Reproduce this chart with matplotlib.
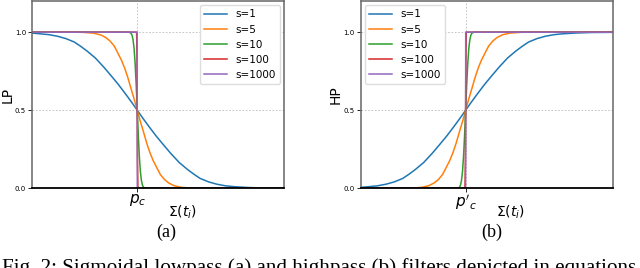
import matplotlib.pyplot as plt

# values (centre p_c = 0, x from -5 to 7)
labels = ["s=1", "s=5", "s=10", "s=100", "s=1000"]
colors = ["tab:blue", "tab:orange", "tab:green", "tab:red", "tab:purple"]

x_s1 = [-5, -4.65, -4.2, -3.8, -3.4, -3.0, -2.7, -2.4, -2.0, -1.6, -1.27, -0.9, -0.55, -0.25, 0,
        0.25, 0.55, 0.9, 1.27, 1.6, 2.0, 2.4, 2.7, 3.0, 3.4, 3.8, 4.2, 4.65, 5.3, 6.0, 7.0]
lp_s1 = [0.994, 0.99, 0.984, 0.974, 0.959, 0.937, 0.91, 0.88, 0.835, 0.777, 0.725, 0.665, 0.603, 0.548, 0.5,
         0.452, 0.397, 0.335, 0.275, 0.223, 0.165, 0.12, 0.09, 0.063, 0.041, 0.026, 0.016, 0.01, 0.005, 0.002, 0.001]
hp_s1 = [0.006, 0.01, 0.016, 0.026, 0.041, 0.063, 0.09, 0.12, 0.165, 0.223, 0.275, 0.335, 0.397, 0.452, 0.5,
         0.548, 0.603, 0.665, 0.725, 0.777, 0.835, 0.88, 0.91, 0.937, 0.959, 0.974, 0.984, 0.99, 0.995, 0.998, 0.999]

x_s5 = [-5, -3, -2.6, -2.1, -1.75, -1.5, -1.3, -1.1, -0.92, -0.75, -0.6, -0.45, -0.3, -0.15, 0,
        0.15, 0.3, 0.45, 0.6, 0.75, 0.92, 1.1, 1.3, 1.5, 1.75, 2.1, 2.6, 3, 7]
lp_s5 = [1.0, 1.0, 0.999, 0.994, 0.983, 0.966, 0.944, 0.912, 0.865, 0.82, 0.77, 0.71, 0.64, 0.573, 0.5,
         0.427, 0.36, 0.29, 0.23, 0.18, 0.135, 0.088, 0.056, 0.034, 0.017, 0.006, 0.001, 0.0, 0.0]
hp_s5 = [0.0, 0.0, 0.001, 0.006, 0.017, 0.034, 0.056, 0.088, 0.135, 0.18, 0.23, 0.29, 0.36, 0.427, 0.5,
         0.573, 0.64, 0.71, 0.77, 0.82, 0.865, 0.912, 0.944, 0.966, 0.983, 0.994, 0.999, 1.0, 1.0]

x_s10 = [-5, -0.4, -0.3, -0.25, -0.2, -0.15, -0.1, -0.05, 0, 0.05, 0.1, 0.15, 0.2, 0.25, 0.3, 0.4, 7]
lp_s10 = [1.0, 1.0, 0.994, 0.981, 0.952, 0.894, 0.797, 0.662, 0.5, 0.338, 0.203, 0.106, 0.048, 0.019, 0.006, 0.0, 0.0]
hp_s10 = [0.0, 0.0, 0.006, 0.019, 0.048, 0.106, 0.203, 0.338, 0.5, 0.662, 0.797, 0.894, 0.952, 0.981, 0.994, 1.0, 1.0]

x_s100 = [-5, -0.03, -0.01, 0, 0.01, 0.03, 7]
lp_s100 = [1.0, 1.0, 0.8, 0.5, 0.2, 0.0, 0.0]
hp_s100 = [0.0, 0.0, 0.2, 0.5, 0.8, 1.0, 1.0]

x_s1000 = [-5, -0.003, 0, 0.003, 7]
lp_s1000 = [1.0, 1.0, 0.5, 0.0, 0.0]
hp_s1000 = [0.0, 0.0, 0.5, 1.0, 1.0]

xs = [x_s1, x_s5, x_s10, x_s100, x_s1000]
lp_curves = [lp_s1, lp_s5, lp_s10, lp_s100, lp_s1000]
hp_curves = [hp_s1, hp_s5, hp_s10, hp_s100, hp_s1000]

fig = plt.figure(figsize=(6.4, 2.68), dpi=100)
ax1 = fig.add_axes([0.0505, 0.2974, 0.3935, 0.699])
ax2 = fig.add_axes([0.5636, 0.2974, 0.3935, 0.699])


def draw(ax, curves, ylabel, xtick, legend_loc):
    for x, y, lab, c in zip(xs, curves, labels, colors):
        ax.plot(x, y, color=c, lw=1.1, label=lab)
    ax.set_xlim(-5, 7)
    ax.set_ylim(0, 1.2)
    ax.set_yticks([0.0, 0.5, 1.0])
    ax.set_yticklabels(["0.0", "0.5", "1.0"])
    ax.set_xticks([0])
    ax.set_xticklabels([xtick], fontsize=11)
    ax.tick_params(axis='y', labelsize=5, length=3, width=0.6, pad=1.5)
    ax.tick_params(axis='x', length=3, width=0.6, pad=0)
    ax.grid(True, color='#bbbbbb', linestyle=(0, (2, 2)), lw=0.6)
    for side in ['top', 'left', 'right']:
        ax.spines[side].set_color('#666666')
        ax.spines[side].set_linewidth(1.1)
    ax.spines['bottom'].set_color('black')
    ax.spines['bottom'].set_linewidth(1.3)
    ax.set_ylabel(ylabel, fontsize=10)
    ax.yaxis.set_label_coords(-0.07, 0.5)
    ax.set_xlabel(r"$\Sigma(t_i)$", fontsize=10)
    ax.xaxis.set_label_coords(0.595, -0.08)
    ax.legend(loc=legend_loc, fontsize=7.5, handlelength=2.2, labelspacing=0.5,
              borderaxespad=0.4, framealpha=1, edgecolor='#dddddd', fancybox=True)


draw(ax1, lp_curves, "LP", r"$p_c$", "upper right")
draw(ax2, hp_curves, "HP", r"$p'_c$", "upper left")

fig.text(166 / 640, 1 - 232 / 268, "(a)", family="Liberation Serif", fontsize=13, ha='center', va='center')
fig.text(492 / 640, 1 - 232 / 268, "(b)", family="Liberation Serif", fontsize=13, ha='center', va='center')
fig.text(2 / 640, 1 - 258 / 268, "Fig. 2: Sigmoidal lowpass (a) and highpass (b) filters depicted in equations",
         family="Liberation Serif", fontsize=15.2, ha='left', va='top')

fig.savefig("out.png", dpi=100)
